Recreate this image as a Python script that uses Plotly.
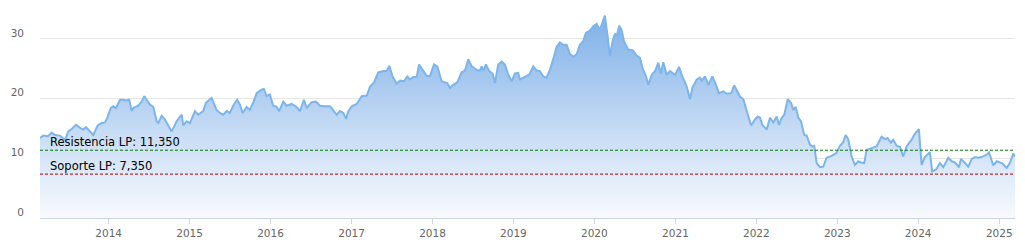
import plotly.graph_objects as go
from datetime import datetime

# Decimal-year time stamps and price values
years = [
    2013.151, 2013.192, 2013.250, 2013.296, 2013.337, 2013.398, 2013.460, 2013.501, 2013.543, 2013.596,
    2013.646, 2013.686, 2013.720, 2013.769, 2013.810, 2013.864, 2013.914, 2013.954, 2013.983, 2014.025,
    2014.057, 2014.090, 2014.140, 2014.180, 2014.214, 2014.254, 2014.284, 2014.304, 2014.366, 2014.408,
    2014.440, 2014.469, 2014.510, 2014.551, 2014.593, 2014.613, 2014.655, 2014.695, 2014.736, 2014.778,
    2014.840, 2014.902, 2014.921, 2014.963, 2015.004, 2015.066, 2015.107, 2015.168, 2015.202, 2015.272,
    2015.334, 2015.375, 2015.416, 2015.458, 2015.498, 2015.539, 2015.588, 2015.622, 2015.655, 2015.705,
    2015.745, 2015.786, 2015.828, 2015.890, 2015.918, 2015.952, 2015.992, 2016.033, 2016.075, 2016.107,
    2016.157, 2016.199, 2016.260, 2016.322, 2016.363, 2016.412, 2016.446, 2016.507, 2016.561, 2016.610,
    2016.672, 2016.734, 2016.816, 2016.857, 2016.898, 2016.931, 2016.959, 2017.001, 2017.063, 2017.125,
    2017.187, 2017.228, 2017.277, 2017.330, 2017.392, 2017.434, 2017.466, 2017.508, 2017.557, 2017.598,
    2017.648, 2017.688, 2017.722, 2017.762, 2017.804, 2017.833, 2017.878, 2017.928, 2017.969, 2018.018,
    2018.059, 2018.113, 2018.154, 2018.182, 2018.216, 2018.256, 2018.306, 2018.360, 2018.401, 2018.442,
    2018.484, 2018.545, 2018.586, 2018.607, 2018.627, 2018.660, 2018.701, 2018.743, 2018.771, 2018.812,
    2018.854, 2018.895, 2018.936, 2018.978, 2019.019, 2019.059, 2019.080, 2019.121, 2019.163, 2019.195,
    2019.245, 2019.287, 2019.327, 2019.368, 2019.410, 2019.451, 2019.492, 2019.534, 2019.574, 2019.615,
    2019.657, 2019.698, 2019.739, 2019.781, 2019.821, 2019.862, 2019.896, 2019.945, 2019.986, 2020.028,
    2020.068, 2020.102, 2020.130, 2020.164, 2020.192, 2020.225, 2020.254, 2020.275, 2020.307, 2020.336,
    2020.365, 2020.418, 2020.472, 2020.522, 2020.563, 2020.596, 2020.637, 2020.665, 2020.707, 2020.748,
    2020.789, 2020.818, 2020.850, 2020.892, 2020.933, 2020.974, 2020.995, 2021.044, 2021.085, 2021.139,
    2021.180, 2021.209, 2021.263, 2021.304, 2021.325, 2021.365, 2021.406, 2021.456, 2021.489, 2021.538,
    2021.592, 2021.634, 2021.687, 2021.727, 2021.769, 2021.798, 2021.838, 2021.880, 2021.934, 2021.983,
    2022.016, 2022.045, 2022.073, 2022.128, 2022.168, 2022.209, 2022.251, 2022.279, 2022.313, 2022.345,
    2022.387, 2022.428, 2022.456, 2022.486, 2022.518, 2022.551, 2022.592, 2022.622, 2022.662, 2022.691,
    2022.715, 2022.745, 2022.786, 2022.827, 2022.869, 2022.930, 2022.992, 2023.033, 2023.074, 2023.103,
    2023.135, 2023.177, 2023.218, 2023.259, 2023.292, 2023.333, 2023.363, 2023.424, 2023.486, 2023.548,
    2023.589, 2023.622, 2023.663, 2023.691, 2023.733, 2023.774, 2023.815, 2023.857, 2023.918, 2023.959,
    2024.009, 2024.042, 2024.083, 2024.145, 2024.173, 2024.227, 2024.268, 2024.309, 2024.371, 2024.413,
    2024.453, 2024.503, 2024.527, 2024.577, 2024.618, 2024.660, 2024.700, 2024.741, 2024.783, 2024.845,
    2024.873, 2024.926, 2024.968, 2025.030, 2025.092, 2025.133, 2025.173, 2025.194,
]
values = [
    13.4, 13.8, 13.7, 14.3, 13.9, 13.8, 13.1, 14.5, 14.9, 15.6,
    15.1, 14.8, 15.2, 14.5, 13.9, 15.5, 15.9, 16.0, 16.8, 18.4,
    18.7, 18.4, 19.8, 19.8, 19.7, 19.8, 17.9, 18.4, 18.8, 19.5,
    20.4, 19.8, 19.0, 18.6, 16.2, 15.9, 17.1, 16.5, 15.5, 14.5,
    16.2, 17.3, 15.5, 16.2, 15.9, 17.9, 17.3, 17.9, 19.3, 20.1,
    18.1, 17.6, 17.3, 17.9, 17.6, 18.8, 19.8, 19.0, 17.6, 18.6,
    18.1, 19.3, 20.9, 21.5, 21.6, 20.4, 20.7, 18.8, 18.6, 17.9,
    19.5, 18.8, 19.1, 18.6, 17.9, 19.8, 18.4, 19.4, 19.5, 18.8,
    18.7, 18.7, 17.3, 17.9, 17.6, 16.6, 17.9, 18.7, 19.1, 20.4,
    20.5, 22.0, 22.7, 24.4, 24.6, 24.6, 25.5, 23.6, 22.5, 23.0,
    22.9, 23.7, 23.2, 23.6, 23.6, 25.7, 24.8, 23.8, 23.8, 25.7,
    25.4, 22.9, 22.7, 22.6, 21.8, 22.3, 22.7, 24.4, 24.7, 26.6,
    25.4, 24.8, 24.7, 25.4, 24.7, 25.7, 24.6, 24.2, 22.6, 25.7,
    26.2, 25.7, 24.0, 22.9, 24.2, 24.3, 23.2, 23.5, 23.8, 24.0,
    25.4, 24.7, 24.6, 23.7, 23.5, 24.8, 26.6, 28.7, 29.4, 29.0,
    29.0, 27.5, 27.0, 27.4, 29.0, 29.6, 31.0, 31.4, 32.1, 32.5,
    31.5, 32.7, 33.9, 30.4, 27.1, 29.6, 30.9, 30.4, 32.2, 31.5,
    29.6, 28.2, 28.1, 27.2, 26.8, 25.0, 23.7, 22.3, 24.0, 24.6,
    26.0, 24.2, 26.1, 24.0, 24.6, 24.2, 24.0, 25.3, 23.7, 22.0,
    19.9, 21.8, 23.2, 23.5, 23.0, 23.7, 22.3, 23.7, 22.7, 20.9,
    21.2, 20.8, 20.9, 22.2, 21.2, 20.3, 19.9, 18.1, 15.5, 16.5,
    17.0, 16.8, 15.6, 14.8, 16.8, 16.0, 17.0, 15.6, 16.8, 17.3,
    19.9, 19.3, 18.1, 18.6, 16.8, 16.2, 13.9, 13.8, 12.3, 12.0,
    12.1, 9.2, 8.5, 8.6, 10.1, 10.4, 10.9, 12.1, 12.7, 13.9,
    13.2, 10.3, 8.9, 9.5, 9.3, 9.2, 11.4, 11.7, 12.0, 13.6,
    13.2, 13.4, 12.6, 13.1, 12.1, 11.9, 10.3, 12.0, 13.1, 14.1,
    14.9, 8.9, 10.2, 11.0, 7.8, 8.2, 9.2, 8.5, 10.1, 9.5,
    9.3, 8.5, 9.9, 9.2, 8.6, 9.9, 10.2, 10.1, 10.2, 10.6,
    11.0, 8.8, 9.5, 9.2, 8.4, 9.3, 10.8, 10.3,
]

tick_years = [2014, 2015, 2016, 2017, 2018, 2019, 2020, 2021, 2022, 2023, 2024, 2025]
tick_labels = ["2014", "2015", "2016", "2017", "2018", "2019", "2020", "2021", "2022", "2023", "2024", "2025"]
y_ticks = [0, 10, 20, 30]
y_tick_labels = ["0", "10", "20", "30"]

resistance = 11.35
support = 7.35
resistance_label = "Resistencia LP: 11,350"
support_label = "Soporte LP: 7,350"


def to_date(t):
    y = int(t)
    start = datetime(y, 1, 1)
    end = datetime(y + 1, 1, 1)
    return start + (end - start) * (t - y)


dates = [to_date(t) for t in years]
tick_dates = [datetime(y, 1, 1) for y in tick_years]

fig = go.Figure()
fig.add_trace(go.Scatter(
    x=dates, y=values, mode="lines",
    line=dict(color="#7cb5ec", width=2),
    fill="tozeroy",
    fillgradient=dict(
        type="vertical",
        colorscale=[[0, "rgba(248,250,254,1)"], [0.45, "rgba(196,218,244,1)"], [1, "rgba(126,176,232,1)"]],
        start=0, stop=34,
    ),
    hoverinfo="skip",
))

for level, color, label in [(resistance, "#007a00", resistance_label), (support, "#a80000", support_label)]:
    fig.add_shape(type="line", xref="paper", x0=0, x1=1, yref="y", y0=level, y1=level,
                  line=dict(color=color, width=1, dash="3px,2px"))
    fig.add_annotation(xref="paper", x=0, xshift=8, xanchor="left", yref="y", y=level,
                       yanchor="bottom", yshift=-1, text=label, showarrow=False,
                       font=dict(family="DejaVu Sans", size=11.5, color="#000000"))

fig.update_layout(
    width=1025, height=247,
    margin=dict(l=40, r=10, t=9, b=29),
    paper_bgcolor="white", plot_bgcolor="white",
    showlegend=False,
    font=dict(family="DejaVu Sans", size=10.5, color="#666666"),
)
fig.update_xaxes(
    type="date", range=[dates[0], dates[-1]],
    tickvals=tick_dates, ticktext=tick_labels,
    ticks="outside", ticklen=5, tickcolor="#ccd6eb",
    showline=True, linecolor="#ccd6eb", linewidth=1,
    showgrid=False, zeroline=False,
)
fig.update_yaxes(
    range=[0, 35], tickvals=y_ticks, ticktext=y_tick_labels,
    showgrid=True, gridcolor="#e6e6e6", gridwidth=1,
    zeroline=False, ticks="", ticklabelstandoff=15, ticklabelshift=-6,
)

fig.write_html("out.html")
